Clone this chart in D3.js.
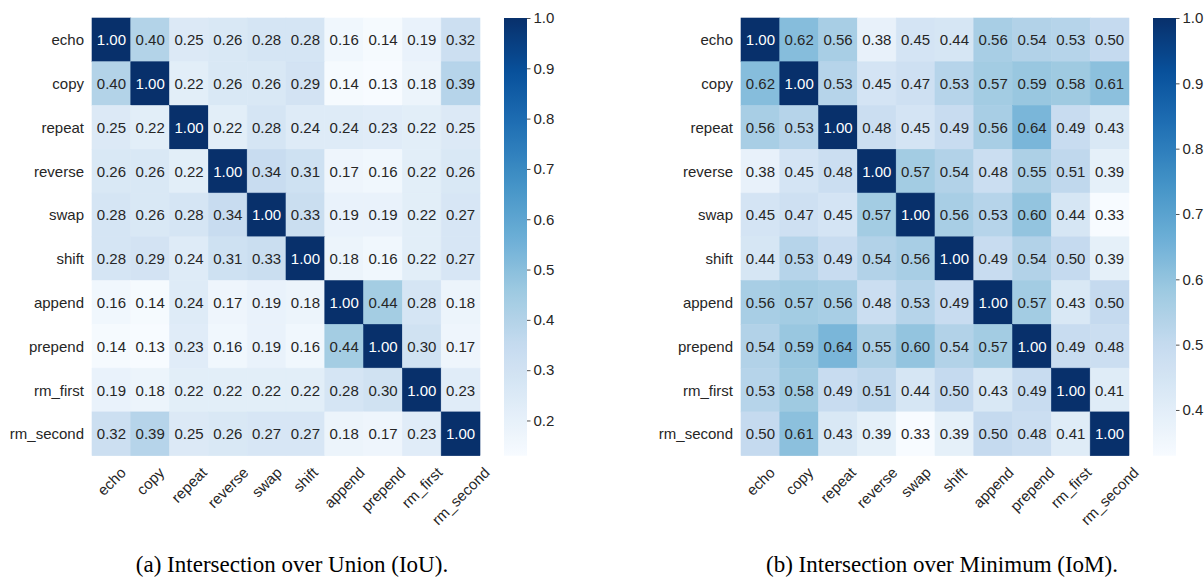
<!DOCTYPE html>
<html>
<head>
<meta charset="utf-8">
<script src="https://cdn.jsdelivr.net/npm/d3@7"></script>
<style>
  html, body { margin: 0; padding: 0; background: #fff; }
  svg { display: block; }
</style>
</head>
<body>
<svg id="chart" width="1204" height="579"></svg>
<script>
// Task names shared by rows and columns of both matrices
const tasks = ["echo", "copy", "repeat", "reverse", "swap", "shift", "append", "prepend", "rm_first", "rm_second"];

// Pairwise Intersection over Union
const iouValues = [
  [1.00, 0.40, 0.25, 0.26, 0.28, 0.28, 0.16, 0.14, 0.19, 0.32],
  [0.40, 1.00, 0.22, 0.26, 0.26, 0.29, 0.14, 0.13, 0.18, 0.39],
  [0.25, 0.22, 1.00, 0.22, 0.28, 0.24, 0.24, 0.23, 0.22, 0.25],
  [0.26, 0.26, 0.22, 1.00, 0.34, 0.31, 0.17, 0.16, 0.22, 0.26],
  [0.28, 0.26, 0.28, 0.34, 1.00, 0.33, 0.19, 0.19, 0.22, 0.27],
  [0.28, 0.29, 0.24, 0.31, 0.33, 1.00, 0.18, 0.16, 0.22, 0.27],
  [0.16, 0.14, 0.24, 0.17, 0.19, 0.18, 1.00, 0.44, 0.28, 0.18],
  [0.14, 0.13, 0.23, 0.16, 0.19, 0.16, 0.44, 1.00, 0.30, 0.17],
  [0.19, 0.18, 0.22, 0.22, 0.22, 0.22, 0.28, 0.30, 1.00, 0.23],
  [0.32, 0.39, 0.25, 0.26, 0.27, 0.27, 0.18, 0.17, 0.23, 1.00]
];

// Pairwise Intersection over Minimum
const iomValues = [
  [1.00, 0.62, 0.56, 0.38, 0.45, 0.44, 0.56, 0.54, 0.53, 0.50],
  [0.62, 1.00, 0.53, 0.45, 0.47, 0.53, 0.57, 0.59, 0.58, 0.61],
  [0.56, 0.53, 1.00, 0.48, 0.45, 0.49, 0.56, 0.64, 0.49, 0.43],
  [0.38, 0.45, 0.48, 1.00, 0.57, 0.54, 0.48, 0.55, 0.51, 0.39],
  [0.45, 0.47, 0.45, 0.57, 1.00, 0.56, 0.53, 0.60, 0.44, 0.33],
  [0.44, 0.53, 0.49, 0.54, 0.56, 1.00, 0.49, 0.54, 0.50, 0.39],
  [0.56, 0.57, 0.56, 0.48, 0.53, 0.49, 1.00, 0.57, 0.43, 0.50],
  [0.54, 0.59, 0.64, 0.55, 0.60, 0.54, 0.57, 1.00, 0.49, 0.48],
  [0.53, 0.58, 0.49, 0.51, 0.44, 0.50, 0.43, 0.49, 1.00, 0.41],
  [0.50, 0.61, 0.43, 0.39, 0.33, 0.39, 0.50, 0.48, 0.41, 1.00]
];

// Colorbar tick values
const iouTicks = [0.2, 0.3, 0.4, 0.5, 0.6, 0.7, 0.8, 0.9, 1.0];
const iomTicks = [0.4, 0.5, 0.6, 0.7, 0.8, 0.9, 1.0];

// Sub-figure captions
const captions = ["(a) Intersection over Union (IoU).", "(b) Intersection over Minimum (IoM)."];

// Nine-step sequential blue palette, linearly interpolated
const bluesStops = ["#f7fbff", "#deebf7", "#c6dbef", "#9ecae1", "#6baed6", "#4292c6", "#2171b5", "#08519c", "#08306b"];
const blues = d3.piecewise(d3.interpolateRgb, bluesStops);

const SANS = "'Liberation Sans', Arial, sans-serif";
const SERIF = "'Liberation Serif', 'Times New Roman', serif";
const INK = "#262626";

const svg = d3.select("#chart");
const defs = svg.append("defs");

const gridTop = 18, gridBottom = 455.7, gridW = 388;

const panels = [
  { id: "iou", values: iouValues, ticks: iouTicks, caption: captions[0], x0: 92, cbX: 504, capX: 292 },
  { id: "iom", values: iomValues, ticks: iomTicks, caption: captions[1], x0: 741, cbX: 1153, capX: 942 }
];

function luminance(c) {
  const rgb = d3.rgb(c);
  const lin = v => { v /= 255; return v <= 0.03928 ? v / 12.92 : Math.pow((v + 0.055) / 1.055, 2.4); };
  return 0.2126 * lin(rgb.r) + 0.7152 * lin(rgb.g) + 0.0722 * lin(rgb.b);
}

panels.forEach(p => {
  const flat = p.values.flat();
  const vmin = d3.min(flat), vmax = d3.max(flat);
  const color = d3.scaleSequential(blues).domain([vmin, vmax]);

  const x = d3.scaleBand().domain(tasks).range([p.x0, p.x0 + gridW]).padding(0);
  const y = d3.scaleBand().domain(tasks).range([gridTop, gridBottom]).padding(0);

  const cells = p.values.flatMap((row, i) => row.map((v, j) => ({ r: tasks[i], c: tasks[j], v })));
  const g = svg.append("g");

  g.selectAll("rect.cell").data(cells).join("rect")
    .attr("class", "cell")
    .attr("x", d => x(d.c))
    .attr("y", d => y(d.r))
    .attr("width", x.bandwidth())
    .attr("height", y.bandwidth())
    .attr("fill", d => color(d.v))
    .attr("stroke", d => color(d.v))
    .attr("stroke-width", 0.6);

  g.selectAll("text.annot").data(cells).join("text")
    .attr("class", "annot")
    .attr("x", d => x(d.c) + x.bandwidth() / 2)
    .attr("y", d => y(d.r) + y.bandwidth() / 2)
    .attr("text-anchor", "middle")
    .attr("dominant-baseline", "central")
    .attr("font-family", SANS)
    .attr("font-size", 15)
    .attr("fill", d => luminance(color(d.v)) > 0.408 ? INK : "#ffffff")
    .text(d => d3.format(".2f")(d.v));

  // Row labels
  g.selectAll("text.ylab").data(tasks).join("text")
    .attr("class", "ylab")
    .attr("x", p.x0 - 8)
    .attr("y", d => y(d) + y.bandwidth() / 2)
    .attr("text-anchor", "end")
    .attr("dominant-baseline", "central")
    .attr("font-family", SANS)
    .attr("font-size", 15)
    .attr("fill", INK)
    .text(d => d);

  // Column labels, rotated 45 degrees and centred under each column
  const xl = g.selectAll("text.xlab").data(tasks).join("text")
    .attr("class", "xlab")
    .attr("text-anchor", "middle")
    .attr("dominant-baseline", "central")
    .attr("font-family", SANS)
    .attr("font-size", 15)
    .attr("fill", INK)
    .text(d => d);
  xl.each(function (d) {
    const w = this.getComputedTextLength();
    const h = 17;
    const cx = x(d) + x.bandwidth() / 2;
    const cy = gridBottom + 8 + (w + h) * Math.SQRT1_2 / 2;
    d3.select(this)
      .attr("x", cx).attr("y", cy)
      .attr("transform", `rotate(-45,${cx},${cy})`);
  });

  // Colorbar
  const cbW = 23;
  const cbScale = d3.scaleLinear().domain([vmin, vmax]).range([gridBottom, gridTop]);
  const grad = defs.append("linearGradient")
    .attr("id", "grad-" + p.id)
    .attr("x1", 0).attr("y1", 1).attr("x2", 0).attr("y2", 0);
  grad.selectAll("stop").data(d3.range(0, 1.0001, 0.02)).join("stop")
    .attr("offset", t => t)
    .attr("stop-color", t => color(vmin + t * (vmax - vmin)));
  svg.append("rect")
    .attr("x", p.cbX).attr("y", gridTop)
    .attr("width", cbW).attr("height", gridBottom - gridTop)
    .attr("fill", `url(#grad-${p.id})`);

  const axis = d3.axisRight(cbScale)
    .tickValues(p.ticks)
    .tickSize(3.5)
    .tickPadding(3)
    .tickFormat(d3.format(".1f"));
  const ax = svg.append("g")
    .attr("transform", `translate(${p.cbX + cbW},0)`)
    .call(axis);
  ax.select(".domain").remove();
  ax.selectAll(".tick line").attr("stroke", INK).attr("stroke-width", 0.8);
  ax.selectAll(".tick text")
    .attr("font-family", SANS)
    .attr("font-size", 15)
    .attr("fill", INK);

  // Caption
  svg.append("text")
    .attr("x", p.capX)
    .attr("y", 572)
    .attr("text-anchor", "middle")
    .attr("font-family", SERIF)
    .attr("font-size", 23)
    .attr("fill", "#000")
    .text(p.caption);
});
</script>
</body>
</html>
